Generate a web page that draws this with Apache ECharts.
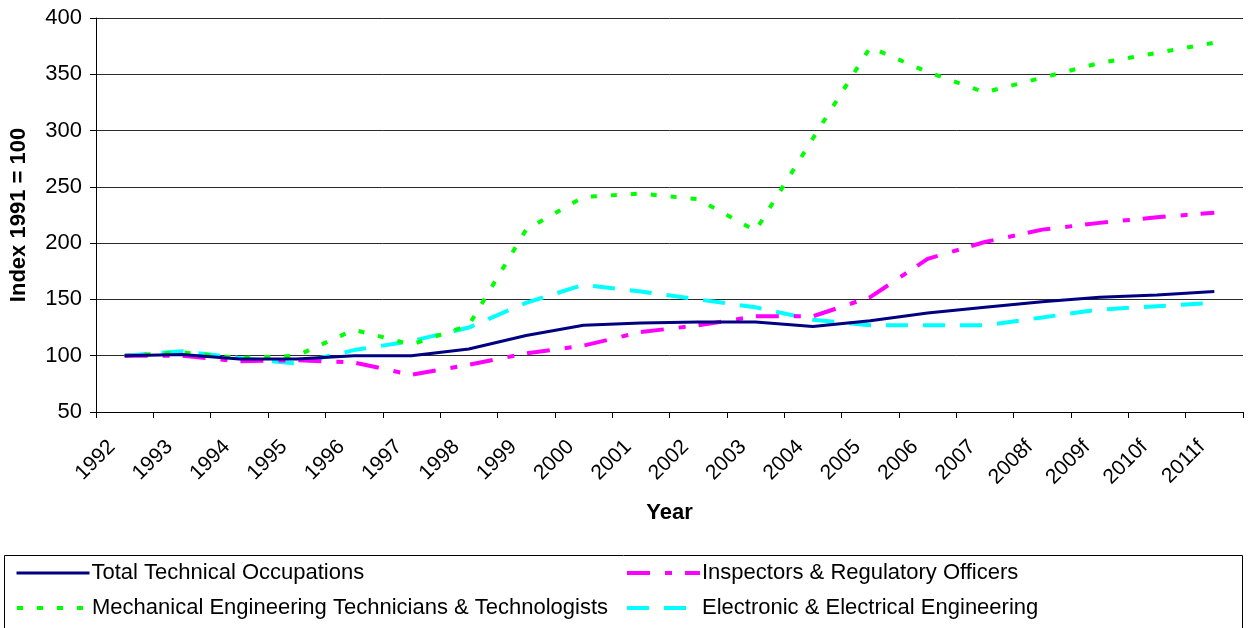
<!DOCTYPE html>
<html>
<head>
<meta charset="utf-8">
<script src="https://cdn.jsdelivr.net/npm/echarts@6/dist/echarts.min.js"></script>
<style>
  html, body { margin: 0; padding: 0; background: #fff; }
  #chart { width: 1249px; height: 628px; }
</style>
</head>
<body>
<div id="chart"></div>
<script>
// categories on the x axis
var years = ["1992", "1993", "1994", "1995", "1996", "1997", "1998", "1999", "2000", "2001",
  "2002", "2003", "2004", "2005", "2006", "2007", "2008f", "2009f", "2010f", "2011f"];

// series values (index 1991 = 100)
var totalTech = [100, 101, 97, 97, 100, 100, 106, 118, 127, 129, 130, 130, 126, 131, 138, 143, 148, 152, 154, 157];
var inspectors = [100, 100, 95, 96, 94, 83, 92, 102, 109, 121, 127, 135, 135, 152, 186, 201, 212, 218, 223, 227];
var mechanical = [100, 103, 98, 100, 123, 110, 127, 212, 241, 244, 239, 211, 293, 374, 352, 334, 347, 360, 369, 378];
var electronic = [100, 104, 98, 93, 105, 113, 125, 147, 163, 157, 150, 143, 132, 127, 127, 127, 134, 141, 144, 147];

var seriesNames = [
  "Total Technical Occupations",
  "Inspectors & Regulatory Officers",
  "Mechanical Engineering Technicians & Technologists",
  "Electronic & Electrical Engineering"
];
var seriesColors = ["#000080", "#FF00FF", "#00FF00", "#00FFFF"];
var seriesDash = ["solid", [23, 15, 7, 13], [6, 14], [22, 15]];
var seriesWidth = [3, 4, 4, 4];

var chart = echarts.init(document.getElementById("chart"));
var font = "'Liberation Sans', Arial, sans-serif";

// one legend per item so that the two columns sit where the reference has them
var legendPos = [[15, 562], [625, 562], [15, 597], [625, 597]];
var legends = seriesNames.map(function (name, i) {
  return {
    data: [name],
    left: legendPos[i][0],
    top: legendPos[i][1],
    itemWidth: 73,
    itemHeight: 20,
    itemGap: 0,
    padding: 0,
    itemStyle: { opacity: 0 },
    lineStyle: { width: seriesWidth[i], type: seriesDash[i], color: seriesColors[i] },
    textStyle: { fontSize: 22, color: "#000", fontFamily: font, padding: [0, 0, 0, -3] }
  };
});

var series = seriesNames.map(function (name, i) {
  return {
    name: name,
    type: "line",
    data: [totalTech, inspectors, mechanical, electronic][i],
    symbol: "none",
    lineStyle: { color: seriesColors[i], width: seriesWidth[i], type: seriesDash[i] },
    itemStyle: { color: seriesColors[i] },
    z: i === 0 ? 5 : 4 - i
  };
});

var option = {
  animation: false,
  textStyle: { fontFamily: font },
  grid: { left: 95, right: 6, top: 18, bottom: 216 },
  xAxis: {
    type: "category",
    data: years,
    boundaryGap: true,
    name: "Year",
    nameLocation: "middle",
    nameGap: 90,
    nameTextStyle: { fontSize: 22, fontWeight: "bold", color: "#000" },
    axisLine: { lineStyle: { color: "#000", width: 1 } },
    axisTick: { show: true, inside: false, length: 6, lineStyle: { color: "#000" } },
    axisLabel: { rotate: 45, fontSize: 21, color: "#000", margin: 19, interval: 0, padding: [0, 18, 0, 0] }
  },
  yAxis: {
    type: "value",
    min: 50,
    max: 400,
    interval: 50,
    name: "Index 1991 = 100",
    nameLocation: "middle",
    nameGap: 66,
    nameTextStyle: { fontSize: 22, fontWeight: "bold", color: "#000" },
    axisLine: { show: true, lineStyle: { color: "#000", width: 1 } },
    axisTick: { show: true, inside: false, length: 6, lineStyle: { color: "#000" } },
    axisLabel: { fontSize: 22, color: "#000", margin: 14 },
    splitLine: { show: true, lineStyle: { color: "#2a2a2a", width: 1 } }
  },
  legend: legends,
  graphic: [{
    type: "rect",
    shape: { x: 4.5, y: 555.5, width: 1238, height: 90 },
    style: { fill: "none", stroke: "#000", lineWidth: 1 },
    silent: true,
    z: -1
  }],
  series: series
};

chart.setOption(option);
</script>
</body>
</html>
